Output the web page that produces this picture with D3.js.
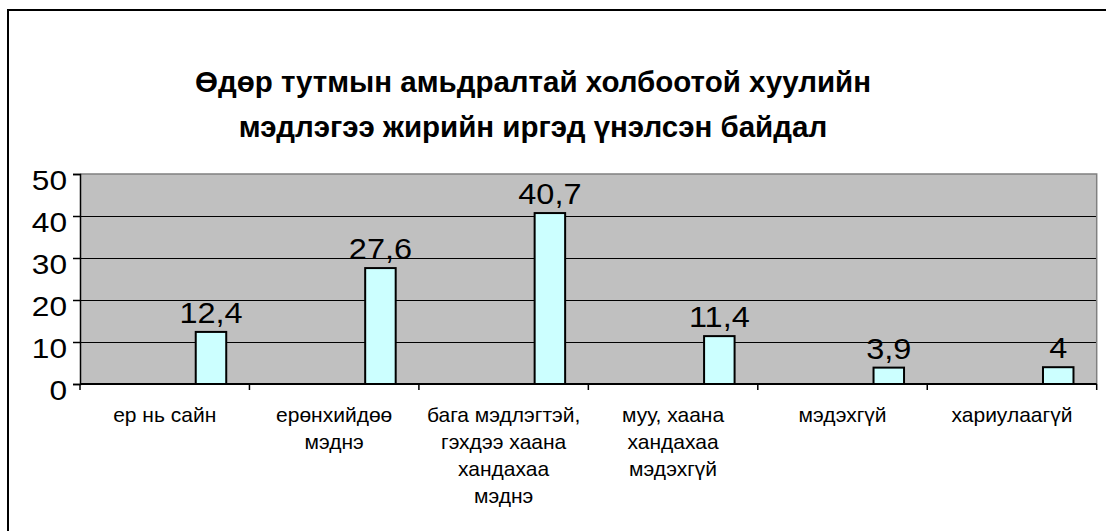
<!DOCTYPE html>
<html>
<head>
<meta charset="utf-8">
<script src="https://cdn.jsdelivr.net/npm/d3@7"></script>
<style>
  html, body { margin: 0; padding: 0; background: #fff; }
  svg { display: block; }
  text { font-family: "Liberation Sans", Arial, sans-serif; fill: #000; }
</style>
</head>
<body>
<svg id="chart" width="1106" height="531"></svg>
<script>
// ---- data ----
const titleLines = ["Өдөр тутмын амьдралтай холбоотой хуулийн", "мэдлэгээ жирийн иргэд үнэлсэн байдал"];
const categories = [
  "ер нь сайн",
  "ерөнхийдөө\nмэднэ",
  "бага мэдлэгтэй,\nгэхдээ хаана\nхандахаа\nмэднэ",
  "муу, хаана\nхандахаа\nмэдэхгүй",
  "мэдэхгүй",
  "хариулаагүй"
];
const values = [12.4, 27.6, 40.7, 11.4, 3.9, 4];
const valueLabels = ["12,4", "27,6", "40,7", "11,4", "3,9", "4"];
const yTicks = [0, 10, 20, 30, 40, 50];

// ---- layout ----
const svg = d3.select("#chart");
const W = 1106, H = 531;
const plot = { left: 80, right: 1096.7, top: 174, bottom: 384 };

svg.append("rect").attr("width", W).attr("height", H).attr("fill", "#fff");
// outer chart border (right/bottom cropped in the reference)
svg.append("rect").attr("x", 8).attr("y", 10).attr("width", 1200).attr("height", 700)
  .attr("fill", "none").attr("stroke", "#000").attr("stroke-width", 2);

// title
const title = svg.append("text").attr("text-anchor", "middle")
  .style("font-weight", "bold").style("font-size", "29.5px");
titleLines.forEach((t, i) => {
  title.append("tspan").attr("x", 533).attr("y", 92 + i * 45).text(t);
});

const x = d3.scaleBand().domain(categories).range([plot.left, plot.right]).padding(0);
const y = d3.scaleLinear().domain([0, 50]).range([plot.bottom, plot.top]);
const bw = x.bandwidth();

// plot area
svg.append("rect").attr("x", plot.left).attr("y", plot.top)
  .attr("width", plot.right - plot.left).attr("height", plot.bottom - plot.top)
  .attr("fill", "#C0C0C0");

// gridlines
svg.append("g").selectAll("line").data(yTicks.filter(d => d > 0 && d < 50)).join("line")
  .attr("x1", plot.left).attr("x2", plot.right)
  .attr("y1", d => y(d)).attr("y2", d => y(d))
  .attr("stroke", "#000").attr("stroke-width", 1).attr("shape-rendering", "crispEdges");
// plot top and right borders (gray)
svg.append("path")
  .attr("d", `M${plot.left},${y(50)}H${plot.right}V${plot.bottom}`)
  .attr("fill", "none").attr("stroke", "#808080").attr("stroke-width", 1.5);

// bars
svg.append("g").selectAll("rect").data(values).join("rect")
  .attr("x", (d, i) => x(categories[i]) + bw * 0.683)
  .attr("width", bw * 0.18)
  .attr("y", d => y(d))
  .attr("height", d => y(0) - y(d))
  .attr("fill", "#CCFFFF").attr("stroke", "#000").attr("stroke-width", 2);

// value labels
svg.append("g").selectAll("text").data(values).join("text")
  .attr("text-anchor", "middle")
  .style("font-size", "29px")
  .attr("transform", (d, i) => `translate(${x(categories[i]) + bw * 0.773},${y(d) - 9}) scale(1.12,1)`)
  .text((d, i) => valueLabels[i]);

// y axis
const yAxis = d3.axisLeft(y).tickValues(yTicks).tickSize(7).tickFormat(d3.format("d"));
const gy = svg.append("g").attr("transform", `translate(${plot.left},0)`).call(yAxis);
gy.select(".domain").attr("stroke", "#000").attr("stroke-width", 1.5);
gy.selectAll(".tick line").attr("stroke", "#000").attr("stroke-width", 1.5);
gy.selectAll(".tick text").remove();
gy.selectAll(".tick").append("text")
  .attr("text-anchor", "end")
  .style("font-size", "27.5px")
  .attr("transform", "translate(-13,15) scale(1.15,1)")
  .text(d => d);

// x axis
const xEdges = d3.range(categories.length + 1).map(i => plot.left + i * bw);
svg.append("line").attr("x1", plot.left).attr("x2", plot.right)
  .attr("y1", y(0)).attr("y2", y(0)).attr("stroke", "#000").attr("stroke-width", 2);
svg.append("g").selectAll("line").data(xEdges).join("line")
  .attr("x1", d => d).attr("x2", d => d)
  .attr("y1", y(0)).attr("y2", y(0) + 6)
  .attr("stroke", "#000").attr("stroke-width", 1.5);

// category labels
const cat = svg.append("g").selectAll("text").data(categories).join("text")
  .attr("text-anchor", "middle")
  .style("font-size", "21px");
cat.each(function (c) {
  const t = d3.select(this);
  c.split("\n").forEach((line, i) => {
    t.append("tspan").attr("x", x(c) + bw / 2).attr("y", 422 + i * 27).text(line);
  });
});
</script>
</body>
</html>
